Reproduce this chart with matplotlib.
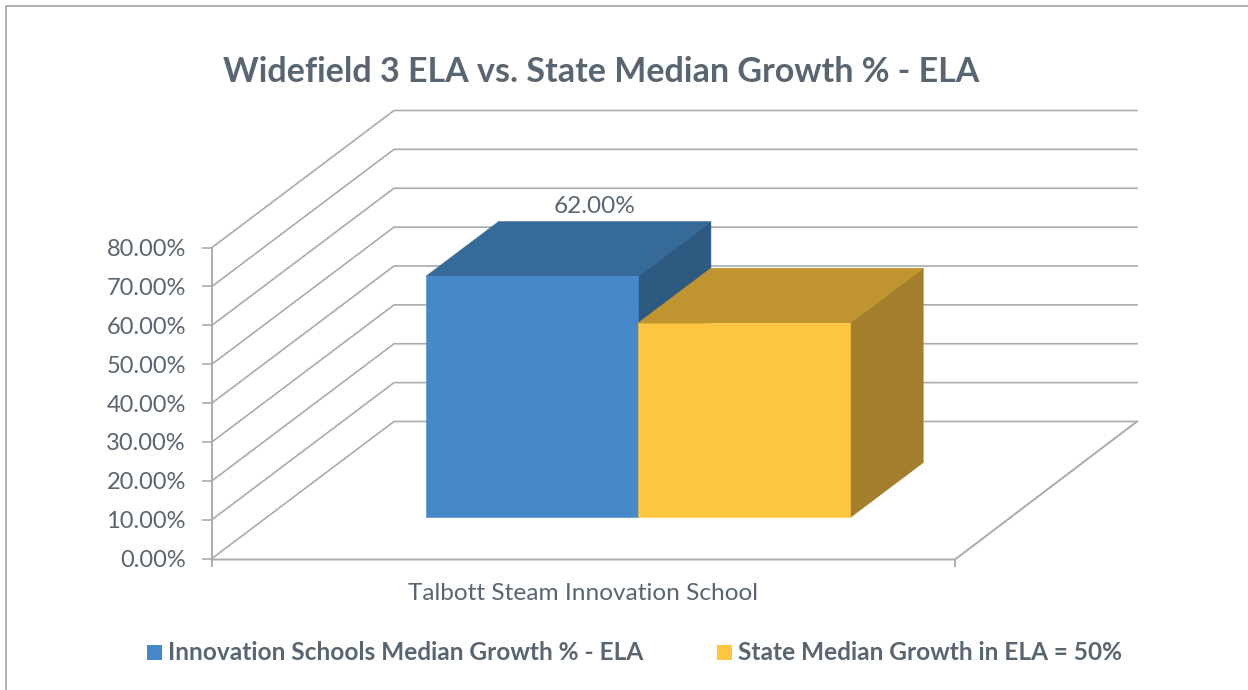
import matplotlib.pyplot as plt
from matplotlib.patches import Polygon, Rectangle

plt.rcParams['font.family'] = ['Lato', 'DejaVu Sans']

title = 'Widefield 3 ELA vs. State Median Growth % - ELA'
category = 'Talbott Steam Innovation School'
series_names = ['Innovation Schools Median Growth % - ELA', 'State Median Growth in ELA = 50%']
series_values = [62, 50]
tick_values = [0, 10, 20, 30, 40, 50, 60, 70, 80]
value_label = '62.00%'

front_cols = ['#4689c8', '#ffc640']
top_cols = ['#366a99', '#c09530']
side_cols = ['#2e5980', '#a37e2b']
grid_col = '#a8abaf'
text_col = '#596570'

# oblique projection, in pixels of the picture
x0, x_len = 212, 743
y0, per_unit = 558.5, 3.8875
dx, dy = 182, -137
gap = 1.5
z_front, z_back = 0.3, 0.7


def proj(x, v, z):
    """x along category axis 0-1, v value, z depth 0-1"""
    return x0 + x * x_len + z * dx, y0 - v * per_unit + z * dy


fig = plt.figure(figsize=(12.48, 6.9), dpi=100)
ax = fig.add_axes([0, 0, 1, 1])
ax.set_xlim(0, 1248)
ax.set_ylim(690, 0)
ax.axis('off')

# outer frame
ax.plot([5.5, 5.5, 1248], [690, 5.5, 5.5], color='#9a9ea3', lw=1.1)

# walls and grid
for v in tick_values:
    pts = [proj(0, v, 0), proj(0, v, 1), proj(1, v, 1)]
    ax.plot([p[0] for p in pts], [p[1] for p in pts], color=grid_col, lw=1.2)
    fx, fy = proj(0, v, 0)
    ax.plot([fx - 9, fx], [fy, fy], color=grid_col, lw=1.2)
    ax.text(186, fy + 2, '%.2f%%' % v, ha='right', va='center', fontsize=17, color=text_col)

# axis lines and floor
top_v = tick_values[-1]
ax.plot([x0, x0], [proj(0, top_v, 0)[1], y0 + 7], color=grid_col, lw=1.4)
floor = [proj(0, 0, 0), proj(1, 0, 0), proj(1, 0, 1)]
ax.plot([floor[0][0], floor[1][0], floor[2][0]],
        [floor[0][1] + 1, floor[1][1] + 1, floor[2][1]], color=grid_col, lw=1.4)
ax.plot([floor[1][0], floor[1][0]], [y0, y0 + 7], color=grid_col, lw=1.4)

# bars, blue first so the yellow top covers its side
width = 1 / (len(series_values) + gap)
for i, v in enumerate(series_values):
    left = gap / 2 * width + i * width
    right = left + width
    front = [proj(left, 0, z_front), proj(right, 0, z_front), proj(right, v, z_front), proj(left, v, z_front)]
    top = [proj(left, v, z_front), proj(right, v, z_front), proj(right, v, z_back), proj(left, v, z_back)]
    side = [proj(right, 0, z_front), proj(right, 0, z_back), proj(right, v, z_back), proj(right, v, z_front)]
    ax.add_patch(Polygon(side, closed=True, fc=side_cols[i], ec=side_cols[i], lw=0.4, zorder=3))
    ax.add_patch(Polygon(top, closed=True, fc=top_cols[i], ec=top_cols[i], lw=0.4, zorder=3))
    ax.add_patch(Polygon(front, closed=True, fc=front_cols[i], ec=front_cols[i], lw=0.4, zorder=3))

# texts
lx, ly = proj(gap / 2 * width + width / 2, series_values[0], z_back)
ax.text(lx - 10, ly - 15, value_label, ha='center', va='center', fontsize=17.6, color=text_col)
ax.text(582.5, 593, category, ha='center', va='center', fontsize=17.6, color=text_col)
ax.text(601.5, 72, title, ha='center', va='center', fontsize=24.5, fontweight='bold', color=text_col)

# legend
legend_x = [147, 717]
for name, col, lgx in zip(series_names, front_cols, legend_x):
    ax.add_patch(Rectangle((lgx, 645), 15, 15, fc=col, ec='none'))
    ax.text(lgx + 20.5, 652, name, ha='left', va='center', fontsize=17.6, fontweight='bold', color=text_col)

fig.savefig('out.png', dpi=100)
